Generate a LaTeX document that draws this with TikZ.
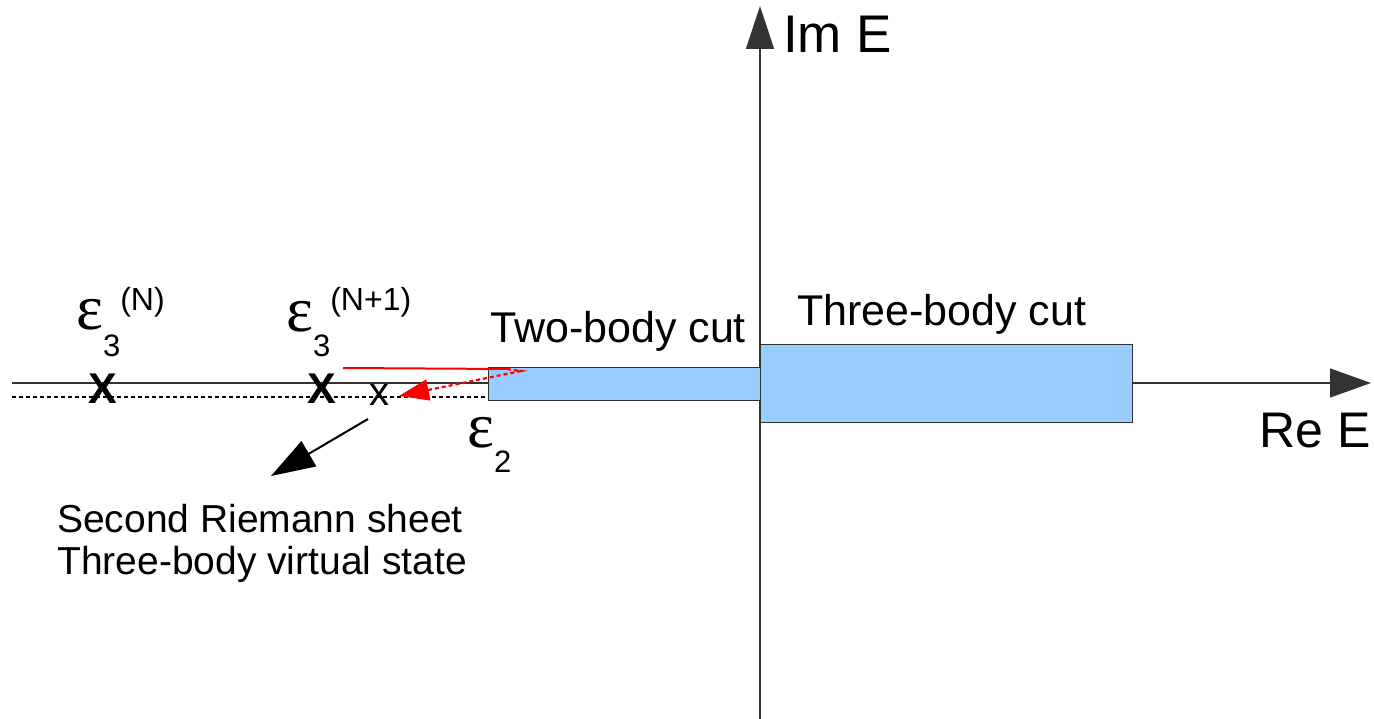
\documentclass[tikz,border=0pt]{standalone}
\usepackage{fontspec}
\setmainfont{Liberation Sans}
\newfontfamily\epsfont{Liberation Serif}
\usetikzlibrary{arrows.meta}
\definecolor{cutblue}{HTML}{99CCFF}
\definecolor{axisgray}{HTML}{333333}
\definecolor{redline}{HTML}{FF0000}
\newcommand{\fsz}[1]{\fontsize{#1}{#1}\selectfont}
\newcommand{\eps}{{\epsfont\fsz{64}ε}}
\begin{document}
\begin{tikzpicture}[x=1pt,y=-1pt,
  axis/.style={draw=axisgray,line width=1.4pt},
  cutbox/.style={draw=axisgray,fill=cutblue,line width=1pt,inner sep=0pt,anchor=north west},
  lbl/.style={inner sep=0pt,anchor=base west},
  polemark/.style={inner sep=0pt,anchor=base},
  redsolid/.style={draw=redline,line width=2pt},
  reddash/.style={draw=redline,line width=2.2pt,dash pattern=on 4pt off 3pt,-{Triangle[length=30pt,width=21pt]}},
  blackarrow/.style={draw=black,line width=2pt,-{Triangle[length=44pt,width=29pt]}}
]
\useasboundingbox (0,0) rectangle (1374,719);
% axes
\coordinate (reStart) at (12,383);
\coordinate (reTip) at (1371,383);
\coordinate (imStart) at (760,719);
\coordinate (imTip) at (760,6);
\draw[axis,-{Triangle[length=41pt,width=29pt]}] (reStart) -- (reTip);
\draw[axis,-{Triangle[length=43pt,width=28pt]}] (imStart) -- (imTip);
% dashed second sheet line
\coordinate (dashStart) at (12,397);
\coordinate (dashEnd) at (488,397);
\draw[black,line width=1.3pt,dash pattern=on 4pt off 3pt] (dashStart) -- (dashEnd);
% cuts
\node[cutbox,minimum width=272pt,minimum height=33pt] (two) at (488,367) {};
\node[cutbox,minimum width=372pt,minimum height=78pt] (three) at (760,344) {};
% axis labels
\node[lbl,font=\fsz{53}] (imE) at (783,53) {Im E};
\node[inner sep=0pt,anchor=base east,font=\fsz{50}] (reE) at (1371,447) {Re E};
% cut labels
\node[lbl,font=\fsz{43}] (twoL) at (490,343) {Two-body cut};
\node[lbl,font=\fsz{43}] (threeL) at (797,326) {Three-body cut};
% poles
\node[polemark,font=\fsz{43}\bfseries] (x1) at (103,403) {X};
\node[polemark,font=\fsz{43}\bfseries] (x2) at (322,403) {X};
\node[polemark,font=\fsz{40}] (vx) at (379,405) {x};
% energy labels
\node[lbl] (e3N) at (76,330) {\eps\raisebox{-27pt}{\fsz{31}3}\raisebox{19pt}{\fsz{32}(N)}};
\node[lbl] (e3N1) at (286,332) {\eps\raisebox{-25pt}{\fsz{31}3}\raisebox{21pt}{\fsz{32}(N+1)}};
\node[lbl] (e2) at (467,447) {\eps\raisebox{-25pt}{\fsz{31}2}};
% red trajectory
\coordinate (rs) at (343,368);
\coordinate (rm) at (507,369);
\coordinate (rturn) at (521,371);
\coordinate (rtip) at (399,396);
\draw[redsolid] (rs) -- (rm);
\draw[reddash] (rm) -- (rturn) -- (rtip);
% pointer arrow
\coordinate (bs) at (368,419);
\coordinate (bt) at (271,476);
\draw[blackarrow] (bs) -- (bt);
% caption
\node[inner sep=0pt,anchor=base west,align=left,font=\fontsize{39}{42}\selectfont] (cap) at (57,574) {Second Riemann sheet\\Three-body virtual state};
\end{tikzpicture}
\end{document}
